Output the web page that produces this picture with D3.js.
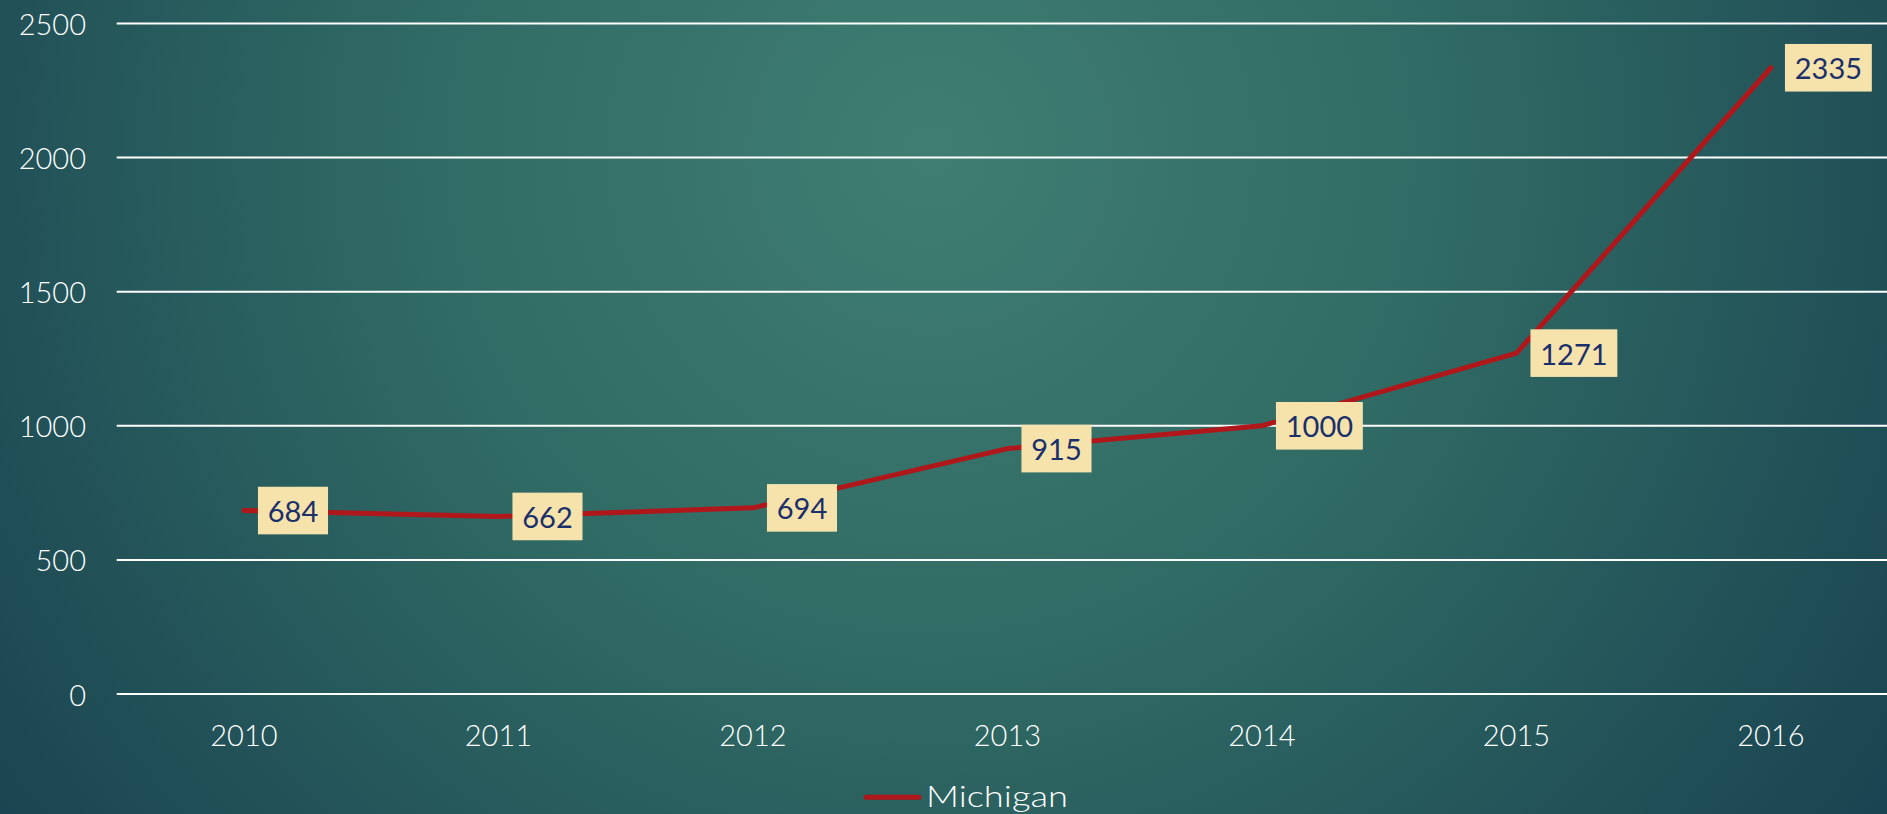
<!DOCTYPE html>
<html>
<head>
<meta charset="utf-8">
<script src="https://cdn.jsdelivr.net/npm/d3@7"></script>
<style>
  html, body { margin: 0; padding: 0; background: #1d4a52; }
  svg { display: block; }
</style>
</head>
<body>
<svg id="chart" width="1887" height="814"></svg>
<script>
const years = ["2010", "2011", "2012", "2013", "2014", "2015", "2016"];
const michigan = [684, 662, 694, 915, 1000, 1271, 2335];
const yTicks = [0, 500, 1000, 1500, 2000, 2500];
const seriesName = "Michigan";

const W = 1887, H = 814;
const left = 116.7, bandW = 254.5;
const svg = d3.select("#chart");
const font = "Lato, 'DejaVu Sans', sans-serif";

// background
const defs = svg.append("defs");
const grad = defs.append("radialGradient").attr("id", "bg")
  .attr("gradientUnits", "userSpaceOnUse")
  .attr("cx", 930).attr("cy", 150).attr("r", 1150);
grad.append("stop").attr("offset", 0).attr("stop-color", "#3f7d72");
grad.append("stop").attr("offset", 0.45).attr("stop-color", "#306a64");
grad.append("stop").attr("offset", 1).attr("stop-color", "#1a4451");
svg.append("rect").attr("width", W).attr("height", H).attr("fill", "url(#bg)");

const x = d3.scaleBand().domain(years).range([left, left + bandW * years.length]);
const y = d3.scaleLinear().domain([0, 2500]).range([694, 23.5]);

// gridlines
svg.append("g").selectAll("line").data(yTicks).join("line")
  .attr("x1", left).attr("x2", W)
  .attr("y1", d => y(d)).attr("y2", d => y(d))
  .attr("stroke", "#ffffff").attr("stroke-width", 2);

// y axis labels
svg.append("g").selectAll("text").data(yTicks).join("text")
  .attr("x", 86).attr("y", d => y(d))
  .attr("text-anchor", "end").attr("dominant-baseline", "central")
  .attr("fill", "#ffffff").attr("font-family", font).attr("font-size", 29)
  .attr("font-weight", 300)
  .text(d => d);

// x axis labels
svg.append("g").selectAll("text").data(years).join("text")
  .attr("x", d => x(d) + x.bandwidth() / 2).attr("y", 734.5)
  .attr("text-anchor", "middle").attr("dominant-baseline", "central")
  .attr("fill", "#ffffff").attr("font-family", font).attr("font-size", 29)
  .attr("font-weight", 300)
  .text(d => d);

const cx = d => x(d) + x.bandwidth() / 2;
const data = years.map((yr, i) => ({ yr, v: michigan[i] }));

// line
svg.append("path").datum(data)
  .attr("d", d3.line().x(d => cx(d.yr)).y(d => y(d.v)))
  .attr("fill", "none").attr("stroke", "#b0171a").attr("stroke-width", 5)
  .attr("stroke-linecap", "round").attr("stroke-linejoin", "round");

// data labels
const lg = svg.append("g").selectAll("g").data(data).join("g")
  .attr("transform", d => `translate(${cx(d.yr) + 14},${y(d.v)})`);
const rects = lg.append("rect").attr("y", -23.8).attr("height", 47.6).attr("fill", "#f6e3ab");
const texts = lg.append("text")
  .attr("x", 9.8).attr("y", 0).attr("dominant-baseline", "central")
  .attr("fill", "#1b2f6b").attr("font-family", font).attr("font-size", 29)
  .text(d => d.v);
texts.each(function(d, i) {
  const w = this.getComputedTextLength();
  d3.select(rects.nodes()[i]).attr("width", w + 19.6);
});

// legend
svg.append("line").attr("x1", 866).attr("x2", 919).attr("y1", 797.3).attr("y2", 797.3)
  .attr("stroke", "#b0171a").attr("stroke-width", 5).attr("stroke-linecap", "round");
svg.append("text").attr("x", 926).attr("y", 806.7)
  .attr("fill", "#ffffff").attr("font-family", font).attr("font-size", 30).attr("font-weight", 300)
  .attr("textLength", 142).attr("lengthAdjust", "spacingAndGlyphs")
  .text(seriesName);
</script>
</body>
</html>
